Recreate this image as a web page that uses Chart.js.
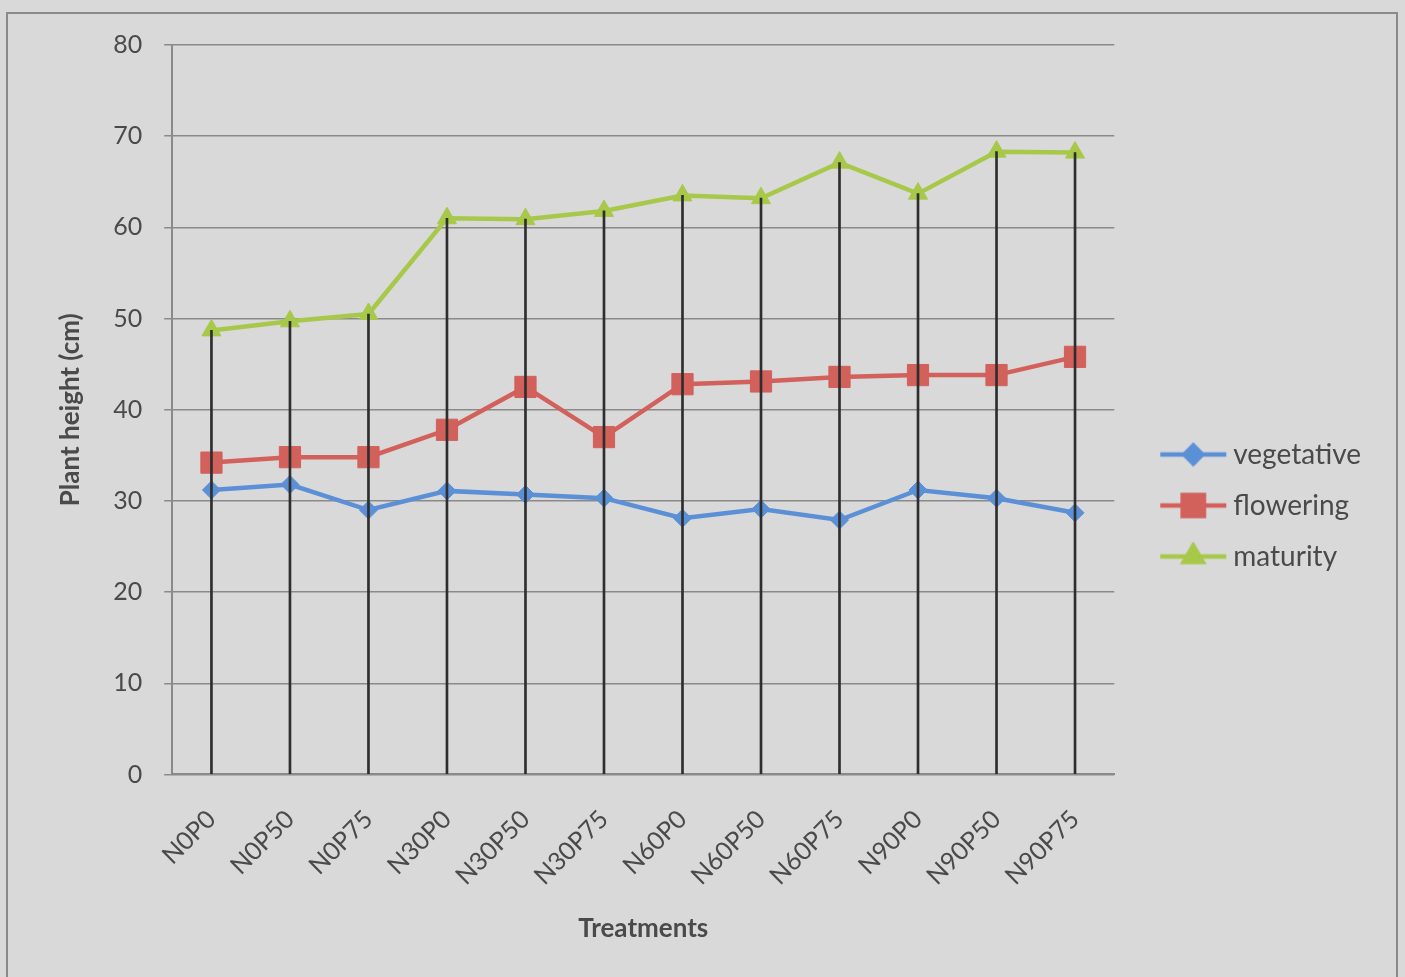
<!DOCTYPE html>
<html>
<head>
<meta charset="utf-8">
<script src="https://cdn.jsdelivr.net/npm/chart.js@4.4.1/dist/chart.umd.min.js"></script>
<style>
  html, body { margin: 0; padding: 0; background: #d9d9d9; }
  #wrap { position: absolute; left: 0; top: 0; width: 1405px; height: 977px; }
</style>
</head>
<body>
<div id="wrap"><canvas id="myChart"></canvas></div>
<script>
const treatments = ['N0P0', 'N0P50', 'N0P75', 'N30P0', 'N30P50', 'N30P75', 'N60P0', 'N60P50', 'N60P75', 'N90P0', 'N90P50', 'N90P75'];

const vegetative = [31.2, 31.8, 29.0, 31.1, 30.7, 30.3, 28.1, 29.1, 27.9, 31.2, 30.3, 28.7];
const flowering = [34.2, 34.8, 34.8, 37.8, 42.5, 37.0, 42.8, 43.1, 43.6, 43.8, 43.8, 45.8];
const maturity = [48.7, 49.7, 50.5, 61.0, 60.9, 61.8, 63.5, 63.2, 67.1, 63.7, 68.3, 68.2];

const seriesNames = ['vegetative', 'flowering', 'maturity'];
const seriesColors = ['#5b90d6', '#d2605b', '#a8c84a'];
const seriesMarkers = ['rectRot', 'rect', 'triangle'];
const markerSize = { rectRot: 9, rect: 15, triangle: 11 };

// legend swatch: line with the marker in the middle, like Excel
function legendSwatch(color, marker) {
    const c = document.createElement('canvas');
    c.width = 100;
    c.height = 30;
    const ctx = c.getContext('2d');
    ctx.strokeStyle = color;
    ctx.fillStyle = color;
    ctx.lineWidth = 4.5;
    ctx.beginPath();
    ctx.moveTo(32, 15);
    ctx.lineTo(98, 15);
    ctx.stroke();
    Chart.helpers.drawPoint(ctx, {pointStyle: marker, radius: markerSize[marker], borderWidth: 1}, 65, 15);
    ctx.fill();
    return c;
}

const frame = {
    id: 'frame',
    beforeDraw(chart) {
        const ctx = chart.ctx;
        ctx.save();
        ctx.fillStyle = '#d9d9d9';
        ctx.fillRect(0, 0, chart.width, chart.height);
        ctx.strokeStyle = '#8a8a8a';
        ctx.lineWidth = 2;
        ctx.strokeRect(7, 13, 1390, 980);
        ctx.restore();
    }
};

const config = {
    data: {
        labels: treatments,
        datasets: [{
            type: 'bar',
            label: 'drop',
            data: maturity,
            backgroundColor: '#2e2e2e',
            barThickness: 2,
            order: -1
        }].concat(seriesNames.map((name, i) => ({
            type: 'line',
            label: name,
            data: [vegetative, flowering, maturity][i],
            borderColor: seriesColors[i],
            backgroundColor: seriesColors[i],
            borderWidth: 4.5,
            pointStyle: seriesMarkers[i],
            pointRadius: markerSize[seriesMarkers[i]],
            pointBorderWidth: 1,
            tension: 0
        })))
    },
    options: {
        responsive: true,
        maintainAspectRatio: false,
        animation: false,
        layout: { padding: { top: 45, right: 34, left: 55, bottom: 33 } },
        plugins: {
            tooltip: { enabled: false },
            legend: {
                position: 'right',
                title: { display: true, text: ' ', padding: 5, font: { size: 10 } },
                labels: {
                    usePointStyle: true,
                    pointStyleWidth: 82,
                    padding: 23,
                    color: '#4a4a4a',
                    font: { family: 'Lato', size: 28 },
                    generateLabels(chart) {
                        return seriesNames.map((name, i) => ({
                            text: name,
                            pointStyle: legendSwatch(seriesColors[i], seriesMarkers[i]),
                            fillStyle: seriesColors[i],
                            strokeStyle: seriesColors[i],
                            fontColor: '#4a4a4a',
                            datasetIndex: i + 1
                        }));
                    }
                }
            }
        },
        scales: {
            x: {
                offset: true,
                grid: { display: false },
                border: { color: '#8a8a8a', width: 2 },
                ticks: {
                    color: '#4a4a4a',
                    minRotation: 45,
                    maxRotation: 45,
                    padding: 22,
                    font: { family: 'Lato', size: 25 }
                },
                title: {
                    display: true,
                    text: 'Treatments',
                    color: '#4a4a4a',
                    padding: { top: 0, bottom: 0 },
                    font: { family: 'Lato', size: 26, weight: 'bold' }
                }
            },
            y: {
                min: 0,
                max: 80,
                ticks: {
                    stepSize: 10,
                    color: '#4a4a4a',
                    padding: 22,
                    font: { family: 'Lato', size: 25 }
                },
                grid: { color: '#8a8a8a', lineWidth: 1.5, tickLength: 8 },
                border: { color: '#8a8a8a', width: 2 },
                title: {
                    display: true,
                    text: 'Plant height (cm)',
                    color: '#4a4a4a',
                    padding: { top: 0, bottom: 5 },
                    font: { family: 'Lato', size: 26, weight: 'bold' }
                }
            }
        }
    },
    plugins: [frame]
};

new Chart(document.getElementById('myChart'), config);
</script>
</body>
</html>
